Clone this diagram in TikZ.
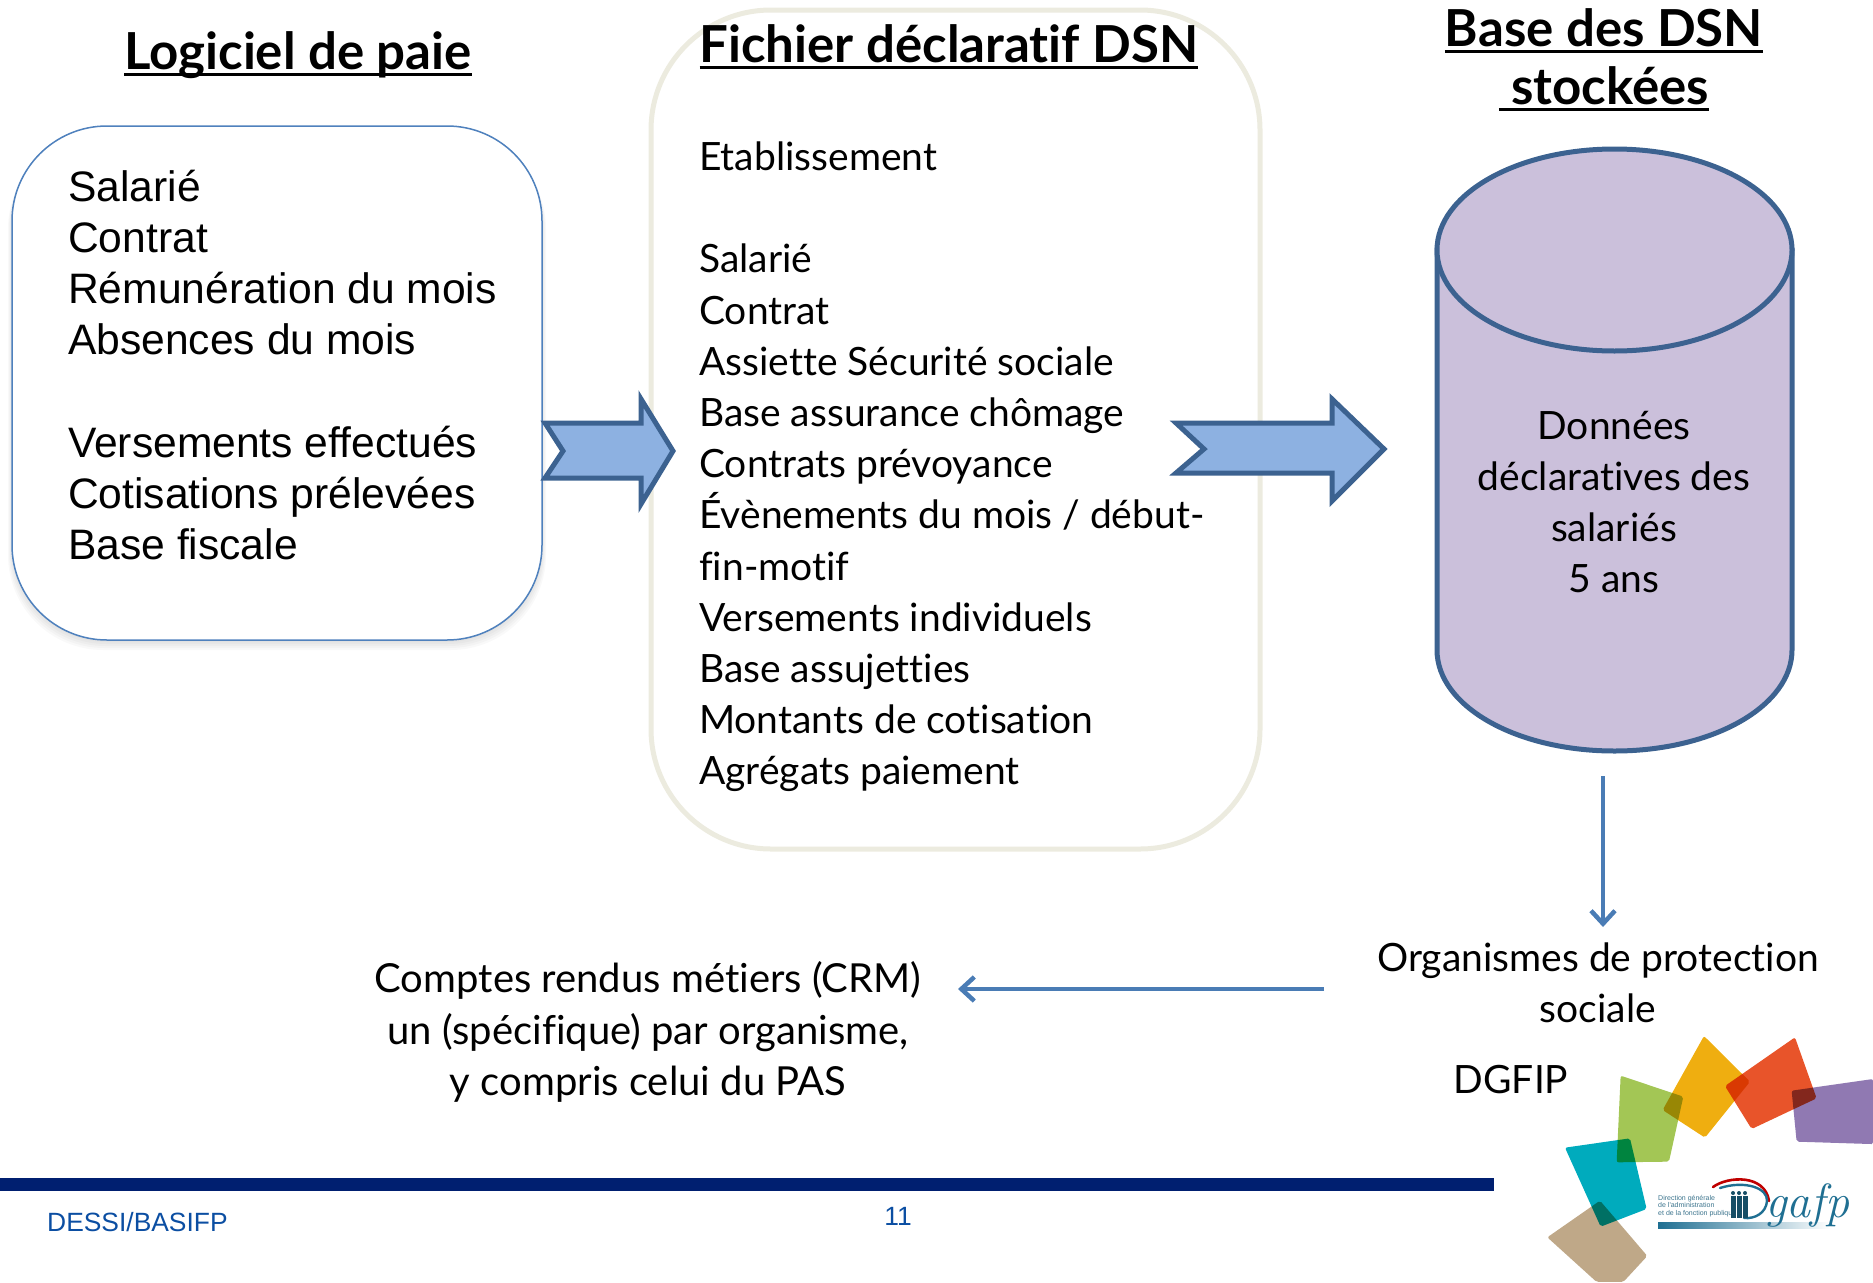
\documentclass[tikz,border=0pt]{standalone}
\usepackage{fontspec}
\setmainfont{Lato}[Ligatures=NoCommon]
\newfontfamily\arial{Liberation Sans}
\newfontfamily\logoserif{Latin Modern Roman}
\usetikzlibrary{arrows.meta}
\definecolor{boxblue}{HTML}{4F81BD}
\definecolor{beige}{HTML}{ECEBDF}
\definecolor{strokeblue}{HTML}{3C6290}
\definecolor{cylfill}{HTML}{CBC0DB}
\definecolor{arrowfill}{HTML}{8DB1E1}
\definecolor{footblue}{HTML}{001F70}
\definecolor{foottext}{HTML}{0B4EA2}
\definecolor{logoblue}{HTML}{1F6F92}
\definecolor{thinblue}{HTML}{4A7CB5}
\newcommand\headul[1]{{\setbox0\hbox{#1}\rlap{\rule[-7pt]{\wd0}{3.5pt}}\box0}}
\tikzset{
 x=1pt,y=-1pt,
 heading/.style={font=\fontsize{51}{58}\selectfont\bfseries,align=center,inner sep=0pt},
 bodytext/.style={font=\fontsize{39}{51.2}\selectfont,align=left,inner sep=0pt,anchor=north west},
 arialtext/.style={font=\arial\fontsize{42.6}{51.2}\selectfont,align=left,inner sep=0pt,anchor=north west},
 centertext/.style={font=\fontsize{39}{51.2}\selectfont,align=center,inner sep=0pt},
 bigarrow/.style={draw=strokeblue,line width=5pt,fill=arrowfill,line join=miter},
 thinarrow/.style={draw=thinblue,line width=4.5pt,-{Straight Barb[length=13pt,width=24pt,line width=4.5pt]}},
 petal/.style={rounded corners=2pt,blend mode=multiply},
 cylstyle/.style={fill=cylfill,draw=strokeblue,line width=5pt},
}
\begin{document}
\begin{tikzpicture}
\useasboundingbox (0,0) rectangle (1873,1282);
% soft shadow of the first box
\foreach \s in {0,2,4,6,8}{
  \fill[black,opacity=.022,rounded corners=95pt] (12-\s/2,130+\s/2) rectangle (542+\s/2,642+\s);
}
% boxes
\node[draw=boxblue,line width=1.5pt,fill=white,rounded corners=95pt,minimum width=530pt,minimum height=514pt,inner sep=0pt] (paie) at (277,383) {};
\node[draw=beige,line width=5pt,fill=white,rounded corners=120pt,minimum width=609pt,minimum height=839pt,inner sep=0pt] (dsn) at (955.5,429.5) {};
% cylinder
\path[cylstyle] (1437,250) -- (1437,650) .. controls (1437,706) and (1516,751) .. (1614.5,751) .. controls (1713,751) and (1792,706) .. (1792,650) -- (1792,250) -- cycle;
\path[cylstyle] (1614.5,250) ellipse [x radius=177.5,y radius=101];
\node[centertext] (cyltext) at (1614,502) {Données\\déclaratives des\\salariés\\5 ans};
% headings
\node[heading] (h1) at (298,55) {\headul{Logiciel de paie}};
\node[heading] (h2) at (949,47) {\headul{Fichier déclaratif DSN}};
\node[heading] (h3) at (1604,60) {\headul{Base des DSN}\\\headul{\ stockées}};
% texts
\node[arialtext] (t1) at (68,169.5) {Salarié\\Contrat\\Rémunération du mois\\Absences du mois\\[51.2pt]Versements effectués\\Cotisations prélevées\\Base fiscale};
\node[bodytext] (t2) at (699,141.5) {Etablissement\\[51.2pt]Salarié\\Contrat\\Assiette Sécurité sociale\\Base assurance chômage\\Contrats prévoyance\\Évènements du mois / début-\\fin-motif\\Versements individuels\\Base assujetties\\Montants de cotisation\\Agrégats paiement};
% block arrows
\path[bigarrow] (545,423) -- (641,423) -- (641,399) -- (673,451) -- (641,504) -- (641,478) -- (545,478) -- (563,451) -- cycle;
\path[bigarrow] (1176,423) -- (1332,423) -- (1332,399) -- (1384,449) -- (1332,501) -- (1332,473) -- (1176,473) -- (1204,449) -- cycle;
% thin arrows
\node[centertext] (orga) at (1598,983) {Organismes de protection\\sociale};
\node[centertext,font=\fontsize{40}{51.2}\selectfont] (crm) at (648,1032) {Comptes rendus métiers (CRM)\\un (spécifique) par organisme,\\y compris celui du PAS};
\node[font=\fontsize{39}{48}\selectfont,inner sep=0pt] (dgfip) at (1511,1080) {DGFIP};
\coordinate (downstart) at (1603,776);
\coordinate (downend) at (1603,927);
\coordinate (leftstart) at (1324,989);
\coordinate (leftend) at (958,989);
\draw[thinarrow] (downstart) -- (downend);
\draw[thinarrow] (leftstart) -- (leftend);
% footer
\fill[footblue] (0,1178) rectangle (1494,1191);
\node[font=\arial\fontsize{26.4}{32}\selectfont,text=foottext,inner sep=0pt,anchor=west] (f1) at (47,1222) {DESSI/BASIFP};
\node[font=\arial\fontsize{26.4}{32}\selectfont,text=foottext,inner sep=0pt] (f2) at (898,1216) {11};
% logo petals (coordinates from the logo crop)
\begin{scope}[shift={(1370,1000)},x=0.3333pt,y=-0.3333pt]
\fill[petal,fill=cyan!0!white,fill=orange!0!white] (0,0) -- (0,0);
\definecolor{pTan}{HTML}{BFA888}\definecolor{pTeal}{HTML}{00ABBD}\definecolor{pGreen}{HTML}{A3C655}
\definecolor{pOrange}{HTML}{EFAE10}\definecolor{pRed}{HTML}{E8542A}\definecolor{pPurple}{HTML}{9079B2}
\fill[petal,pTan] (532,712) -- (690,602) -- (832,768) -- (760,846) -- (680,846) -- cycle;
\fill[petal,pTeal] (585,443) -- (780,415) -- (830,627) -- (692,680) -- cycle;
\fill[petal,pGreen] (752,227) -- (940,290) -- (897,485) -- (740,487) -- cycle;
\fill[petal,pOrange] (1002,108) -- (1140,245) -- (1005,413) -- (878,330) -- cycle;
\fill[petal,pRed] (1275,112) -- (1340,295) -- (1145,387) -- (1065,258) -- cycle;
\fill[petal,pPurple] (1509,237) -- (1265,272) -- (1280,425) -- (1500,432) -- (1509,432) -- cycle;
\end{scope}
% Dgafp mark
\node[font=\arial\fontsize{7}{7.4}\selectfont,text=logoblue!70!gray,align=left,inner sep=0pt,anchor=north west] (logotxt) at (1658,1195) {Direction générale\\de l'administration\\et de la fonction publique};
\shade[left color=logoblue,right color=white] (1658,1222) rectangle (1830,1228);
\draw[red!75!black,line width=2.6pt,line cap=round] (1713,1187) .. controls (1728,1176) and (1765,1174) .. (1769,1201);
\draw[logoblue,line width=2.4pt,line cap=round] (1720,1188) .. controls (1745,1180) and (1768,1188) .. (1767,1201) .. controls (1766,1213) and (1755,1219) .. (1744,1218);
\foreach \px in {1733,1739,1745}{
  \fill[logoblue!70!black] (\px,1193) circle [radius=2];
  \fill[logoblue!70!black] (\px-2.5,1196) rectangle (\px+2.5,1218);
}
\node[font=\logoserif\itshape\fontsize{48}{48}\selectfont,text=logoblue,inner sep=0pt,anchor=base west] (gafp) at (1765,1217) {gafp};
\end{tikzpicture}
\end{document}
